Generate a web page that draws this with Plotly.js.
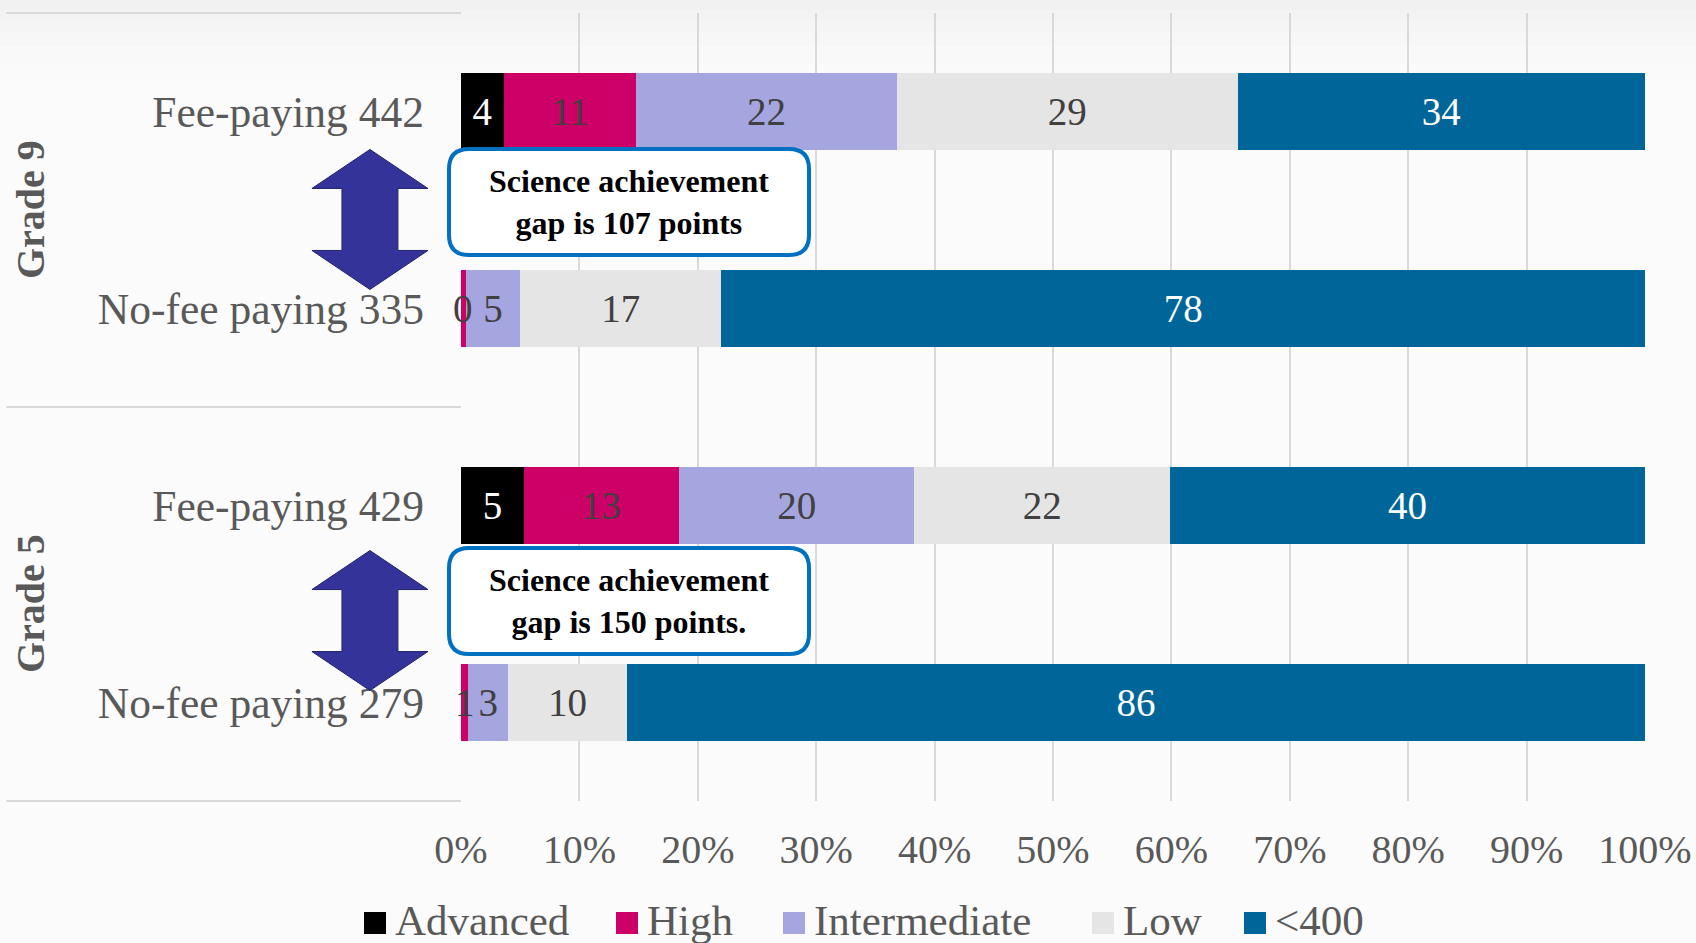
<!DOCTYPE html>
<html>
<head>
<meta charset="utf-8">
<script src="https://cdn.plot.ly/plotly-3.0.1.min.js"></script>
<style>
  html, body { margin: 0; padding: 0; background: #FBFBFB; }
  #chart { width: 1696px; height: 943px; }
</style>
</head>
<body>
<div id="chart"></div>
<script>
// ---- data (percent of learners at each benchmark) ----
const categories = ['Fee-paying 442', 'No-fee paying 335', 'Fee-paying 429', 'No-fee paying 279'];
const seriesNames = ['Advanced', 'High', 'Intermediate', 'Low', '<400'];
const advanced     = [3.6, 0,   5.3,  0];
const high         = [11.2, 0.4, 13.1, 0.6];
const intermediate = [22,  4.6, 19.9, 3.4];
const low          = [28.8, 17,  21.6, 10];
const below400     = [34.4, 78,  40.1, 86];
const gradeLabels  = ['Grade 9', 'Grade 5'];
const gapNotes     = ['Science achievement<br>gap is 107 points', 'Science achievement<br>gap is 150 points.'];
const xTickVals    = [0, 10, 20, 30, 40, 50, 60, 70, 80, 90, 100];

// ---- styles ----
const colors     = ['#000000', '#CC0066', '#A5A5DF', '#E5E5E5', '#006699'];
const textColors = ['#FFFFFF', '#404040', '#404040', '#404040', '#FFFFFF'];
const FONT = 'Liberation Serif, Times New Roman, serif';
const values = [advanced, high, intermediate, low, below400];
const TINY = 2; // segments narrower than this get their label as an unclipped annotation

// plot-area geometry (pixels) used to place decorations
const PL = 461, PW = 1184, PB = 801, PH = 788;
const px2x = p => (p - PL) / PW;
const px2y = p => (PB - p) / PH;

const traces = values.map((v, i) => ({
  type: 'bar',
  orientation: 'h',
  name: seriesNames[i],
  y: categories,
  x: v,
  marker: { color: colors[i], line: { width: 0 } },
  texttemplate: '%{x:.0f}',
  textposition: v.map(val => val < TINY ? 'none' : 'inside'),
  insidetextanchor: 'middle',
  textangle: 0,
  textfont: { family: FONT, size: 39, color: textColors[i] },
  hoverinfo: 'name+x',
  showlegend: false
}));

// pixel-sized decorative shapes
const arrowPath = 'M0,70 L58,31 L28,31 L28,-31 L58,-31 L0,-70 L-58,-31 L-28,-31 L-28,31 L-58,31 Z';
const boxPath = 'M-160,53 L160,53 Q180,53 180,33 L180,-33 Q180,-53 160,-53 L-160,-53 Q-180,-53 -180,-33 L-180,33 Q-180,53 -160,53 Z';
const arrowY = [0.738, 0.229];
const boxY = [0.7602, 0.2538];
const boxX = 0.1419;
const arrowX = -0.0769;

const shapes = [];
// faint top shading of the chart area
[[0, 10, '#F1F1F1'], [10, 20, '#F3F3F3'], [20, 32, '#F5F5F5'], [32, 46, '#F7F7F7'], [46, 62, '#F9F9F9'], [62, 80, '#FAFAFA']]
  .forEach(b => shapes.push({
    type: 'rect', xref: 'paper', yref: 'paper', x0: px2x(0), x1: px2x(1696),
    y0: px2y(b[1]), y1: px2y(b[0]), fillcolor: b[2], line: { width: 0 }, layer: 'below'
  }));
[1, 0.5, 0].forEach(y => shapes.push({
  type: 'line', xref: 'paper', yref: 'paper', x0: -0.384, x1: 0, y0: y, y1: y,
  line: { color: '#D9D9D9', width: 2 }, layer: 'below'
}));
arrowY.forEach(y => shapes.push({
  type: 'path', xref: 'paper', yref: 'paper', xsizemode: 'pixel', ysizemode: 'pixel',
  xanchor: arrowX, yanchor: y, path: arrowPath,
  fillcolor: '#333399', line: { color: '#24246E', width: 1 }, layer: 'above'
}));
boxY.forEach(y => shapes.push({
  type: 'path', xref: 'paper', yref: 'paper', xsizemode: 'pixel', ysizemode: 'pixel',
  xanchor: boxX, yanchor: y, path: boxPath,
  fillcolor: '#FFFFFF', line: { color: '#0070C0', width: 4 }, layer: 'above'
}));

const annotations = [];
// labels of very thin segments, centred on the segment through the data axis
categories.forEach((c, k) => {
  let start = 0;
  values.forEach((v, i) => {
    const val = v[k];
    if (val > 0 && val < TINY) {
      annotations.push({
        text: String(Math.round(val)), xref: 'x', yref: 'y', x: start + val / 2, y: c,
        xanchor: 'center', yanchor: 'middle', showarrow: false,
        font: { family: FONT, size: 39, color: textColors[i] }
      });
    }
    start += val;
  });
});
gradeLabels.forEach((g, i) => annotations.push({
  text: g, xref: 'paper', yref: 'paper', x: -0.364, y: i === 0 ? 0.75 : 0.25,
  xanchor: 'center', yanchor: 'middle', textangle: -90, showarrow: false,
  font: { family: FONT, size: 40, color: '#595959', weight: 'bold' }
}));
gapNotes.forEach((t, i) => annotations.push({
  text: '<b>' + t.replace('<br>', '</b><br><b>') + '</b>', xref: 'paper', yref: 'paper', x: boxX, y: boxY[i],
  xanchor: 'center', yanchor: 'middle', align: 'center', showarrow: false,
  font: { family: FONT, size: 32, color: '#000000' }
}));

// legend drawn manually (square swatch + label)
const legendLeft = [364, 616, 783, 1092, 1244];
seriesNames.forEach((n, i) => {
  shapes.push({
    type: 'rect', xref: 'paper', yref: 'paper',
    x0: px2x(legendLeft[i]), x1: px2x(legendLeft[i] + 22),
    y0: px2y(934), y1: px2y(912),
    fillcolor: colors[i], line: { width: 0 }
  });
  annotations.push({
    text: n, xref: 'paper', yref: 'paper', x: px2x(legendLeft[i] + 29), y: px2y(920),
    xanchor: 'left', yanchor: 'middle', showarrow: false,
    font: { family: FONT, size: 43, color: '#595959' }
  });
});

const layout = {
  width: 1696, height: 943,
  paper_bgcolor: '#FBFBFB', plot_bgcolor: 'rgba(0,0,0,0)',
  margin: { l: 461, r: 51, t: 13, b: 142, autoexpand: false },
  barmode: 'stack',
  bargap: 0.605,
  uniformtext: { mode: 'show', minsize: 39 },
  font: { family: FONT, color: '#595959' },
  xaxis: {
    range: [0, 100], tickvals: xTickVals, ticktext: xTickVals.map(v => v + '%'),
    showgrid: true, gridcolor: '#D9D9D9', gridwidth: 2, zeroline: false, showline: false,
    ticks: '', ticklabelstandoff: 21, tickfont: { family: FONT, size: 40, color: '#595959' },
    fixedrange: true
  },
  yaxis: {
    type: 'category', autorange: 'reversed', showgrid: false, zeroline: false, showline: false,
    ticks: '', ticklabelstandoff: 36, tickfont: { family: FONT, size: 43.5, color: '#595959' },
    fixedrange: true
  },
  showlegend: false,
  shapes: shapes,
  annotations: annotations
};

Plotly.newPlot('chart', traces, layout, { displayModeBar: false, staticPlot: true });
</script>
</body>
</html>
